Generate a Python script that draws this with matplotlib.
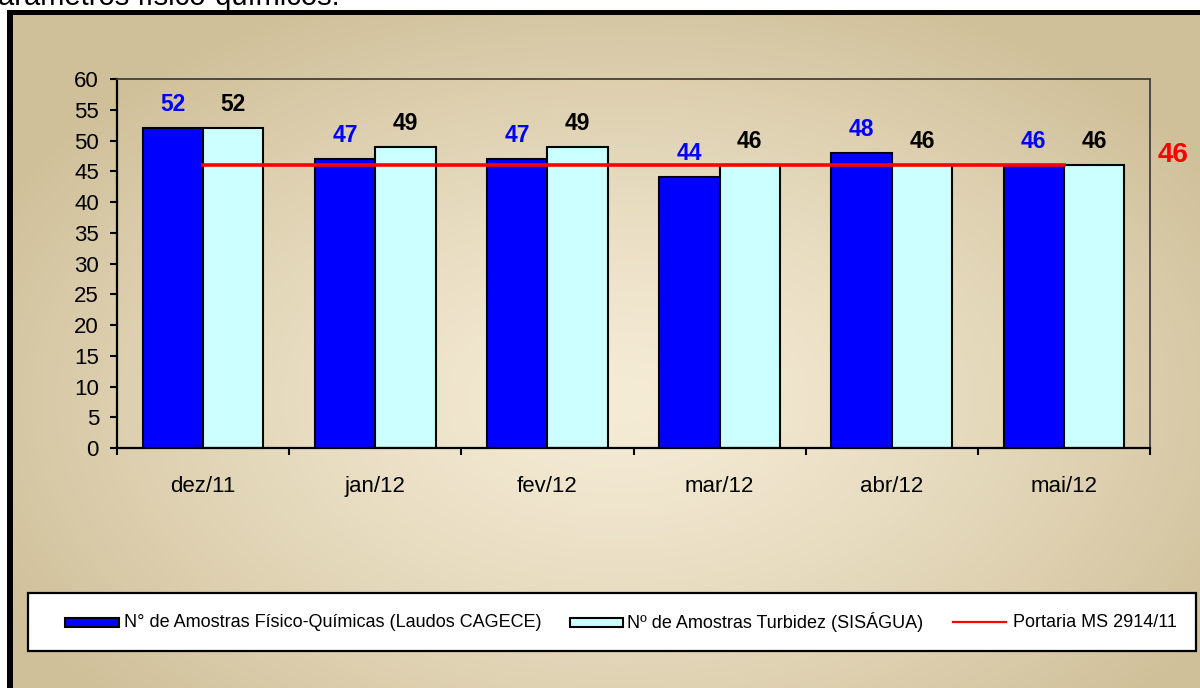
import numpy as np
import matplotlib
matplotlib.use("Agg")
import matplotlib.pyplot as plt
from matplotlib.patches import Rectangle
from matplotlib.lines import Line2D

plt.rcParams['font.family'] = ['Liberation Sans', 'DejaVu Sans']

categories = ["dez/11", "jan/12", "fev/12", "mar/12", "abr/12", "mai/12"]
fisico_quimicas = [52, 47, 47, 44, 48, 46]
turbidez = [52, 49, 49, 46, 46, 46]
portaria = [46, 46, 46, 46, 46, 46]
yticks = list(range(0, 61, 5))
legend_labels = ["N° de Amostras Físico-Químicas (Laudos CAGECE)",
                 "Nº de Amostras Turbidez (SISÁGUA)",
                 "Portaria MS 2914/11"]
caption = "arâmetros físico-químicos."

BLUE = "#0000FF"
CYAN = "#CCFFFF"
RED = "#FF0000"

W, H = 1200, 688
fig = plt.figure(figsize=(W / 100, H / 100), dpi=100, facecolor="white")

# outer black frame
frame = fig.add_axes([7 / W, 0, 1 - 7 / W, 1 - 10 / H])
frame.set_facecolor("black")
frame.set_xticks([]); frame.set_yticks([])
for s in frame.spines.values():
    s.set_visible(False)

# gradient background
bg = fig.add_axes([13 / W, 0, 1 - 13 / W, 1 - 15 / H])
gh, gw = 200, 350
yy, xx = np.mgrid[0:gh, 0:gw]
xp = 13 + xx / (gw - 1) * (W - 13)
yp = 15 + yy / (gh - 1) * (H - 15)
t = np.sqrt(((xp - 620) / 700) ** 2 + ((yp - 400) / 440) ** 2)
t = np.clip(t, 0, 1) ** 1.3
light = np.array([245, 236, 214]) / 255
dark = np.array([208, 192, 154]) / 255
img = light[None, None, :] * (1 - t[..., None]) + dark[None, None, :] * t[..., None]
bg.imshow(img, aspect="auto", interpolation="bilinear")
bg.axis("off")

# caption at top (clipped by the page edge, as in the source)
fig.text(-2 / W, 1 - 5 / H, caption, fontsize=21, color="black", va="baseline", ha="left")

# main plot
ax = fig.add_axes([117 / W, 1 - 448 / H, (1150 - 117) / W, (448 - 79) / H])
ax.set_facecolor("none")
x = np.arange(len(categories))
bw = 0.35
ax.bar(x - bw / 2, fisico_quimicas, bw, color=BLUE, edgecolor="black", linewidth=1.5, zorder=2)
ax.bar(x + bw / 2, turbidez, bw, color=CYAN, edgecolor="black", linewidth=1.5, zorder=2)
ax.plot(x, portaria, color=RED, linewidth=2.6, zorder=3)

for xi, v in zip(x, fisico_quimicas):
    ax.annotate(str(v), (xi - bw / 2, v), xytext=(0, 17), textcoords="offset points",
                ha="center", va="center", color=BLUE, fontsize=16.5, fontweight="bold")
for xi, v in zip(x, turbidez):
    ax.annotate(str(v), (xi + bw / 2, v), xytext=(0, 17), textcoords="offset points",
                ha="center", va="center", color="black", fontsize=16.5, fontweight="bold")
ax.annotate(str(portaria[-1]), (1.0, portaria[-1]), xycoords=("axes fraction", "data"),
            xytext=(16.5, 7.5), textcoords="offset points", ha="center", va="center",
            color=RED, fontsize=20, fontweight="bold", annotation_clip=False)

ax.set_xlim(-0.5, len(categories) - 0.5)
ax.set_ylim(0, 60)
ax.set_yticks(yticks)
ax.tick_params(axis="y", direction="out", length=5, width=1.5, labelsize=16, pad=8, color="black")
ax.set_xticks(np.arange(-0.5, len(categories), 1.0))
ax.set_xticklabels([])
ax.set_xticks(x, minor=True)
ax.set_xticklabels(categories, minor=True)
ax.tick_params(axis="x", which="major", direction="out", length=5, width=1.5, color="black")
ax.tick_params(axis="x", which="minor", length=0, labelsize=16, pad=20)
ax.spines["left"].set_linewidth(1.6)
ax.spines["bottom"].set_linewidth(1.6)
ax.spines["top"].set_color("#404040")
ax.spines["right"].set_color("#404040")
ax.spines["top"].set_linewidth(1.3)
ax.spines["right"].set_linewidth(1.3)

# legend box (pixel coordinates)
lg = fig.add_axes([0, 0, 1, 1])
lg.set_xlim(0, W)
lg.set_ylim(H, 0)
lg.axis("off")
lg.add_patch(Rectangle((28, 593), 1196 - 28, 651 - 593, facecolor="white",
                       edgecolor="black", linewidth=1.6))
ty = 622.5
lg.add_patch(Rectangle((65, 618), 54, 9, facecolor=BLUE, edgecolor="black", linewidth=1.5))
lg.text(124, ty, legend_labels[0], fontsize=13, va="center", ha="left")
lg.add_patch(Rectangle((570, 618), 53, 9, facecolor=CYAN, edgecolor="black", linewidth=1.5))
lg.text(627, ty, legend_labels[1], fontsize=13, va="center", ha="left")
lg.add_line(Line2D([953, 1006], [622, 622], color=RED, linewidth=1.6))
lg.text(1013, ty, legend_labels[2], fontsize=13, va="center", ha="left")

fig.savefig("out.png", dpi=100, facecolor="white")
